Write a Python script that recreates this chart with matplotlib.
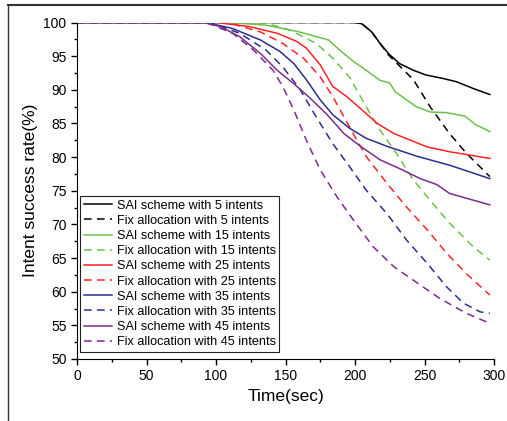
import matplotlib.pyplot as plt
from matplotlib.lines import Line2D
from matplotlib.ticker import MultipleLocator

plt.rcParams['font.family'] = ['Liberation Sans', 'DejaVu Sans']

# curves: (time, rate) pairs
sai5_t = [0, 200, 205, 212, 218, 224, 232, 242, 251, 263, 273, 285, 297]
sai5_y = [100, 100, 99.8, 98.6, 96.9, 95.4, 93.9, 92.9, 92.2, 91.7, 91.2, 90.2, 89.3]
fix5_t = [0, 200, 205, 212, 218, 224, 242, 254, 268, 280, 297]
fix5_y = [100, 100, 99.8, 98.6, 96.9, 95.2, 91.5, 87.5, 83.5, 80.6, 77.1]

sai15_t = [0, 110, 136, 160, 181, 189, 199, 208, 218, 225, 229, 244, 254, 266, 279, 287, 297]
sai15_y = [100, 100, 99.6, 98.6, 97.4, 95.9, 94.2, 92.9, 91.4, 91.0, 89.7, 87.5, 86.7, 86.6, 86.1, 84.8, 83.8]
fix15_t = [0, 115, 136, 153, 172, 184, 196, 208, 218, 230, 242, 254, 268, 285, 297]
fix15_y = [100, 100, 99.9, 98.9, 96.9, 94.7, 91.9, 87.5, 84.0, 80.5, 76.6, 73.6, 70.2, 66.7, 64.7]

sai25_t = [0, 100, 124, 144, 158, 165, 175, 184, 194, 204, 216, 228, 240, 252, 268, 297]
sai25_y = [100, 100, 99.4, 98.4, 97.2, 96.2, 93.7, 90.5, 89.0, 87.2, 85.0, 83.5, 82.5, 81.5, 80.8, 79.8]
fix25_t = [0, 100, 112, 132, 148, 163, 175, 184, 196, 208, 223, 237, 252, 266, 280, 297]
fix25_y = [100, 100, 99.8, 98.6, 96.9, 94.7, 91.9, 89.0, 84.5, 80.1, 76.1, 72.6, 69.2, 65.7, 62.7, 59.5]

sai35_t = [0, 93, 112, 132, 146, 156, 165, 175, 184, 196, 208, 223, 245, 268, 297]
sai35_y = [100, 100, 99.1, 97.4, 95.7, 93.9, 91.5, 88.5, 86.3, 84.3, 82.8, 81.6, 80.1, 78.8, 76.8]
fix35_t = [0, 96, 117, 136, 148, 160, 172, 184, 196, 208, 223, 237, 252, 266, 278, 290, 297]
fix35_y = [100, 100, 98.4, 95.9, 93.4, 90.2, 86.0, 82.0, 78.6, 75.1, 71.6, 67.7, 64.2, 60.7, 58.3, 57.0, 56.8]

sai45_t = [0, 91, 103, 117, 132, 144, 156, 168, 180, 192, 204, 218, 232, 247, 259, 268, 280, 297]
sai45_y = [100, 100, 99.4, 97.9, 95.4, 92.9, 90.9, 88.7, 86.3, 83.5, 81.6, 79.6, 78.3, 76.8, 75.9, 74.6, 73.9, 72.9]
fix45_t = [0, 93, 112, 127, 141, 148, 156, 165, 175, 187, 199, 213, 228, 242, 261, 280, 297]
fix45_y = [100, 100, 98.4, 95.9, 92.9, 90.5, 87.0, 82.5, 78.1, 74.1, 70.6, 66.7, 63.7, 61.7, 59.0, 56.8, 55.3]

intents = [5, 15, 25, 35, 45]
colors = ['#000000', '#6cc24a', '#ff2222', '#2b2f8c', '#7b2d8e']
sai = [(sai5_t, sai5_y), (sai15_t, sai15_y), (sai25_t, sai25_y), (sai35_t, sai35_y), (sai45_t, sai45_y)]
fix = [(fix5_t, fix5_y), (fix15_t, fix15_y), (fix25_t, fix25_y), (fix35_t, fix35_y), (fix45_t, fix45_y)]

fig = plt.figure(figsize=(5.07, 4.21), dpi=100)
ax = fig.add_axes([77/507, 1-359/421, 417/507, 336.5/421])

# thin frame around the figure (left and top visible)
fig.add_artist(Line2D([8/507, 8/507], [0, 1-5/421], color='#333333', lw=1.0, transform=fig.transFigure))
fig.add_artist(Line2D([8/507, 1], [1-5/421, 1-5/421], color='#333333', lw=1.5, transform=fig.transFigure))

for n, c, (st, sy), (ft, fy) in zip(intents, colors, sai, fix):
    ax.plot(st, sy, color=c, lw=1.1, label='SAI scheme with %d intents' % n)
    ax.plot(ft, fy, color=c, lw=1.1, dashes=(5, 3.5), label='Fix allocation with %d intents' % n)

ax.set_xlim(0, 300)
ax.set_ylim(50, 100)
ax.xaxis.set_major_locator(MultipleLocator(50))
ax.xaxis.set_minor_locator(MultipleLocator(25))
ax.yaxis.set_major_locator(MultipleLocator(5))
ax.yaxis.set_minor_locator(MultipleLocator(2.5))
ax.tick_params(which='both', direction='out', labelsize=10, width=1)
ax.tick_params(which='major', length=4)
ax.tick_params(which='minor', length=2.5)
ax.spines['top'].set_visible(False)
ax.spines['right'].set_visible(False)
ax.set_xlabel('Time(sec)', fontsize=12.5, labelpad=4)
ax.set_ylabel('Intent success rate(%)', fontsize=12.5, labelpad=4)

leg = ax.legend(loc='lower left', bbox_to_anchor=(0.007, 0.021), borderaxespad=0, fontsize=9.1,
                fancybox=False, framealpha=1, edgecolor='#222222', handlelength=2.2,
                labelspacing=0.25, borderpad=0.3, handletextpad=0.4)
leg.get_frame().set_linewidth(0.8)

fig.savefig('out.png', dpi=100)
